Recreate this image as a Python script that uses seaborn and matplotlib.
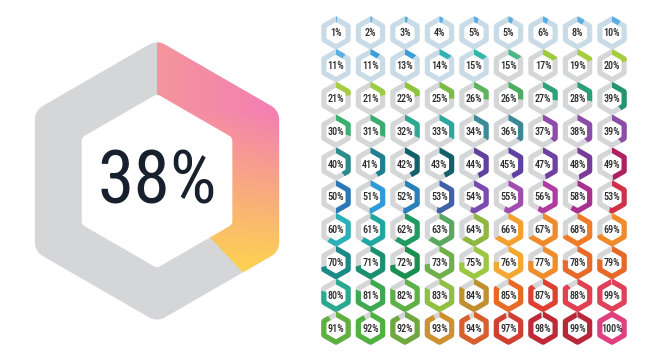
import numpy as np
import matplotlib
matplotlib.use("Agg")
import matplotlib.pyplot as plt
from matplotlib.patches import Polygon
from matplotlib.colors import to_rgb
from matplotlib import font_manager
import seaborn as sns

# ---------------- data ----------------
main_value = 38
main_label = "38%"

grid_values = [
    [1, 2, 3, 4, 5, 5, 6, 8, 10],
    [11, 11, 13, 14, 15, 15, 17, 19, 20],
    [21, 21, 22, 25, 26, 26, 27, 28, 39],
    [30, 31, 32, 33, 34, 36, 37, 38, 39],
    [40, 41, 42, 43, 44, 45, 47, 48, 49],
    [50, 51, 52, 53, 54, 55, 56, 58, 53],
    [60, 61, 62, 63, 64, 66, 67, 68, 69],
    [70, 71, 72, 73, 75, 76, 77, 78, 79],
    [80, 81, 82, 83, 84, 85, 87, 88, 99],
    [91, 92, 92, 93, 94, 97, 98, 99, 100],
]

grid_colors = [
    ["#5aaee0", "#5aaee0", "#5aaee0", "#5aaee0", "#5aaee0", "#5aaee0", "#5aaee0", "#5aaee0", "#5aaee0"],
    ["#5ab0e0", "#3a9ed8", "#3a9ed8", "#2fb3b0", "#35b5a8", "#4ab888", "#9ccc3c", "#a8cc40", "#a8cc40"],
    ["#a8cc40", "#9ccc40", "#8cc43c", "#7cbc44", "#5cb45c", "#4cae60", "#2da27a", "#2a9e78", "#22956e"],
    ["#3cb070", "#3aac6c", "#2aa890", "#2aa8a0", "#3a8c98", "#3a8898", "#8c4ca8", "#8c4ca8", "#8c4ca8"],
    ["#2a8c8c", "#1e8090", "#135f6a", "#135f6a", "#6040a0", "#6040a0", "#7040a0", "#7a3a98", "#b02060"],
    ["#2a78b8", "#2e9ad8", "#2a80b8", "#4060a8", "#7a4cb0", "#a04cb0", "#b03ca0", "#a83090", "#d03048"],
    ["#2ab0b8", "#20a8a0", "#1f9a60", "#5aa860", "#90b840", "#f4a030", "#f08a2a", "#f07a28", "#f08a2a"],
    ["#1a8a88", "#1a9070", "#1a9050", "#70b048", "#9cc840", "#f4a830", "#f08c2a", "#e86a28", "#e86828"],
    ["#2aa890", "#40a850", "#60b048", "#90c040", "#c09030", "#e86a28", "#e04030", "#e04050", "#e04058"],
    ["#60b040", "#50b040", "#70a840", "#d09030", "#d86030", "#d04030", "#c02838", "#b82838", "#e04080"],
]

light_base = "#c9dbe6"
gray_base = "#d4d6d7"
light_base_cells = {(0, c) for c in range(9)} | {(1, c) for c in range(5)}

grad_pink = "#f47db4"
grad_salmon = "#f5959c"
grad_yellow = "#fdd251"


# ---------------- font choice (narrow face if one is installed) ----------------
def pick_font(weight=400):
    fl = font_manager.fontManager.ttflist
    prefs = ["Roboto Condensed", "Oswald", "Liberation Sans Narrow", "Open Sans Condensed",
             "DejaVu Sans Condensed", "Narrow", "Condensed"]
    for key in prefs:
        cands = [f for f in fl if key.lower() in (f.name + " " + f.fname).lower()
                 and f.style == "normal"]
        if cands:
            def score(f):
                w = f.weight if isinstance(f.weight, int) else 400
                return abs(w - weight) + (0 if "oblique" not in f.fname.lower() else 1000)
            cands.sort(key=score)
            return font_manager.FontProperties(fname=cands[0].fname)
    return font_manager.FontProperties(family=["Roboto", "DejaVu Sans"],
                                       weight="bold" if weight >= 600 else "normal")


# ---------------- helpers ----------------
def rounded_hex(R, rc, n=1500):
    pts = []
    for k in range(6):
        va = np.deg2rad(90 + 60 * k)
        d = R - rc / np.sin(np.pi / 3)
        c = np.array([d * np.cos(va), d * np.sin(va)])
        for p in np.linspace(va - np.pi / 6, va + np.pi / 6, 20):
            pts.append(c + rc * np.array([np.cos(p), np.sin(p)]))
    pts = np.array(pts + [pts[0]])
    seg = np.hypot(*np.diff(pts, axis=0).T)
    s = np.concatenate([[0], np.cumsum(seg)])
    ss = np.linspace(0, s[-1], n)
    x = np.interp(ss, s, pts[:, 0])
    y = np.interp(ss, s, pts[:, 1])
    ang = np.arctan2(y, x)
    r = np.hypot(x, y)
    o = np.argsort(ang)
    return ang[o], r[o]


def radius_at(theta, table):
    ang, r = table
    th = (theta + np.pi) % (2 * np.pi) - np.pi
    return np.interp(th, ang, r, period=2 * np.pi)


def outline(cx, cy, table, n=400):
    th = np.linspace(0, 2 * np.pi, n, endpoint=False)
    r = radius_at(th, table)
    return np.column_stack([cx + r * np.cos(th), cy - r * np.sin(th)])


def wedge(cx, cy, table, frac, n=400):
    th = np.linspace(np.pi / 2, np.pi / 2 - 2 * np.pi * frac, n)
    r = radius_at(th, table)
    pts = np.column_stack([cx + r * np.cos(th), cy - r * np.sin(th)])
    return np.vstack([[cx, cy], pts])


# ---------------- figure ----------------
sns.set_theme(style="white")
W, H = 645, 360
fig = plt.figure(figsize=(6.45, 3.6), dpi=100)
fig.patch.set_facecolor("white")
ax = fig.add_axes([0, 0, 1, 1])
ax.set_xlim(0, W)
ax.set_ylim(H, 0)
ax.axis("off")

fp_big = pick_font(400)
fp_small = pick_font(500)

# big hexagon
bcx, bcy = 157, 181
big_out = rounded_hex(141, 16)
big_in = rounded_hex(87, 6)
ax.add_patch(Polygon(outline(bcx, bcy, big_out), closed=True, fc=gray_base, ec="none", zorder=1))

x0, x1, y0, y1 = bcx - 130, bcx + 130, bcy - 145, bcy + 145
gx, gy = np.meshgrid(np.linspace(x0, x1, 300), np.linspace(y0, y1, 300))
u = np.clip((283 - gx) / 126, 0, 1)[..., None]
v = np.clip((gy - 110) / 160, 0, 1)[..., None]
P, S, Y = (np.array(to_rgb(c)) for c in (grad_pink, grad_salmon, grad_yellow))
img = np.clip(P + u * (S - P) * (1 - v) + v * (Y - P), 0, 1)
im = ax.imshow(img, extent=(x0, x1, y1, y0), origin="upper", zorder=2, interpolation="bilinear")
clip = Polygon(wedge(bcx, bcy, big_out, main_value / 100), closed=True, fc="none", ec="none",
               transform=ax.transData)
ax.add_patch(clip)
im.set_clip_path(clip)
ax.set_xlim(0, W)
ax.set_ylim(H, 0)

ax.add_patch(Polygon(outline(bcx, bcy, big_in), closed=True, fc="white", ec="none", zorder=3))
fp_big.set_size(53)
ax.text(bcx, bcy + 2, main_label, ha="center", va="center", color="#17202c",
        fontproperties=fp_big, zorder=4)

# grid of small hexagons
gx0, gdx = 336, 34.5
gy0, gdy = 33, 32.8
small_out = rounded_hex(17, 3.5)
small_in = rounded_hex(11, 1.5)
fp_small.set_size(7.3)
for r, row in enumerate(grid_values):
    for c, val in enumerate(row):
        cx = gx0 + c * gdx
        cy = gy0 + r * gdy
        base = light_base if (r, c) in light_base_cells else gray_base
        ax.add_patch(Polygon(outline(cx, cy, small_out, 200), closed=True, fc=base, ec="none", zorder=1))
        ax.add_patch(Polygon(wedge(cx, cy, small_out, min(val, 100) / 100, 200), closed=True,
                             fc=grid_colors[r][c], ec="none", zorder=2))
        ax.add_patch(Polygon(outline(cx, cy, small_in, 200), closed=True, fc="white", ec="none", zorder=3))
        ax.text(cx, cy + 0.5, f"{val}%", ha="center", va="center", color="#2a2a2a",
                fontproperties=fp_small, zorder=4)

fig.savefig("out.png", dpi=100, facecolor="white")
